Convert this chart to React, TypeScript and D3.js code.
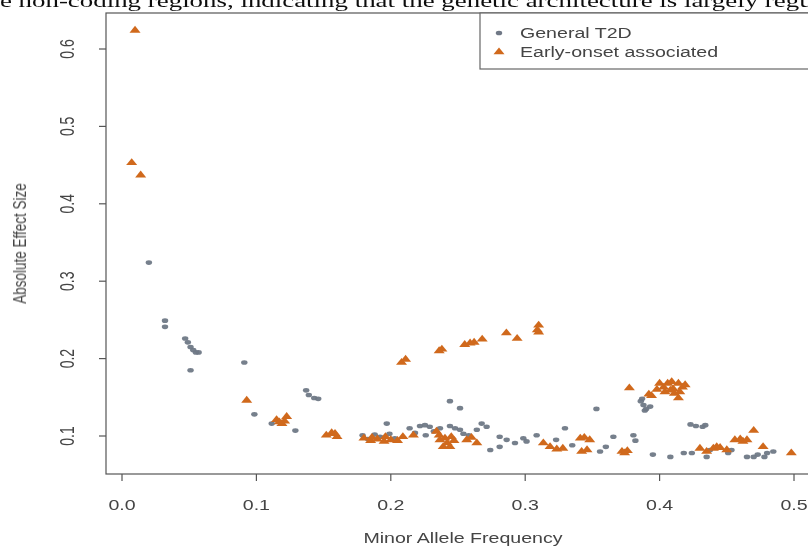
import React from 'react';
import * as d3 from 'd3';

const mafTicks = [0, 0.1, 0.2, 0.3, 0.4, 0.5];
const mafTickLabels = ['0.0', '0.1', '0.2', '0.3', '0.4', '0.5'];
const effectTicks = [0.1, 0.2, 0.3, 0.4, 0.5, 0.6];
const effectTickLabels = ['0.1', '0.2', '0.3', '0.4', '0.5', '0.6'];
const legendLabels = ['General T2D', 'Early-onset associated'];
const xTitle = 'Minor Allele Frequency';
const yTitle = 'Absolute Effect Size';
const captionText = 'the non-coding regions, indicating that the genetic architecture is largely regu';

// [minor allele frequency, absolute effect size]
const generalT2D: [number, number][] = [
  [0.020, 0.324], [0.032, 0.249], [0.032, 0.241],
  [0.047, 0.226], [0.049, 0.221], [0.051, 0.215], [0.053, 0.211], [0.055, 0.208], [0.057, 0.208], [0.051, 0.185],
  [0.091, 0.195], [0.0985, 0.128], [0.1114, 0.116], [0.129, 0.107],
  [0.137, 0.159], [0.139, 0.153], [0.143, 0.149], [0.146, 0.148],
  [0.179, 0.101], [0.183, 0.096], [0.188, 0.102], [0.192, 0.099], [0.197, 0.116], [0.199, 0.103], [0.203, 0.097],
  [0.214, 0.110], [0.2217, 0.113], [0.2254, 0.114], [0.229, 0.112], [0.2366, 0.110], [0.244, 0.113], [0.2478, 0.110],
  [0.2515, 0.108], [0.264, 0.108], [0.2676, 0.116], [0.2713, 0.112],
  [0.218, 0.104], [0.226, 0.101], [0.232, 0.106], [0.254, 0.103], [0.258, 0.101],
  [0.244, 0.145], [0.2515, 0.136],
  [0.274, 0.082], [0.281, 0.086], [0.281, 0.099], [0.2862, 0.095], [0.2924, 0.091], [0.2986, 0.097], [0.301, 0.093],
  [0.3085, 0.101], [0.323, 0.095], [0.3296, 0.110], [0.335, 0.088], [0.353, 0.135], [0.3557, 0.080], [0.360, 0.086],
  [0.3656, 0.099], [0.3805, 0.101], [0.382, 0.094],
  [0.386, 0.145], [0.388, 0.140], [0.390, 0.135], [0.389, 0.133], [0.393, 0.138], [0.387, 0.148],
  [0.395, 0.076], [0.408, 0.073], [0.418, 0.078], [0.424, 0.078], [0.423, 0.115], [0.427, 0.113], [0.432, 0.112], [0.434, 0.114],
  [0.435, 0.073], [0.4375, 0.082], [0.451, 0.078], [0.4535, 0.082], [0.465, 0.073], [0.470, 0.073], [0.473, 0.076],
  [0.478, 0.073], [0.480, 0.078], [0.4846, 0.080],
];

const earlyOnset: [number, number][] = [
  [0.0097, 0.624], [0.0072, 0.453], [0.0139, 0.437],
  [0.0928, 0.146],
  [0.115, 0.121], [0.119, 0.116], [0.1225, 0.125], [0.121, 0.119], [0.117, 0.118],
  [0.152, 0.101], [0.156, 0.104], [0.160, 0.099], [0.1585, 0.103],
  [0.180, 0.097], [0.185, 0.094], [0.190, 0.096], [0.195, 0.093], [0.200, 0.095], [0.205, 0.094], [0.209, 0.099],
  [0.2168, 0.101], [0.196, 0.099], [0.186, 0.098],
  [0.208, 0.195], [0.211, 0.199], [0.236, 0.210], [0.238, 0.212], [0.255, 0.218], [0.259, 0.220], [0.262, 0.221],
  [0.268, 0.225], [0.286, 0.233], [0.294, 0.226], [0.310, 0.243], [0.310, 0.234], [0.309, 0.237],
  [0.234, 0.106], [0.2366, 0.095], [0.2403, 0.097], [0.239, 0.086], [0.244, 0.086], [0.242, 0.091], [0.247, 0.094],
  [0.236, 0.101], [0.245, 0.099], [0.2565, 0.095], [0.264, 0.091], [0.260, 0.098],
  [0.3135, 0.091], [0.3185, 0.086], [0.3235, 0.083], [0.328, 0.084], [0.341, 0.097], [0.344, 0.098], [0.348, 0.095],
  [0.342, 0.080], [0.346, 0.082], [0.372, 0.080], [0.374, 0.078], [0.376, 0.081],
  [0.3775, 0.162],
  [0.392, 0.154], [0.394, 0.152], [0.400, 0.168], [0.403, 0.163], [0.406, 0.168], [0.409, 0.170], [0.414, 0.168],
  [0.417, 0.163], [0.411, 0.155], [0.414, 0.149], [0.408, 0.159], [0.404, 0.157], [0.410, 0.161], [0.415, 0.157],
  [0.419, 0.166], [0.398, 0.160],
  [0.430, 0.084], [0.435, 0.080], [0.440, 0.084], [0.4425, 0.086], [0.445, 0.085], [0.450, 0.082], [0.456, 0.095],
  [0.460, 0.096], [0.462, 0.093], [0.465, 0.095], [0.470, 0.107], [0.477, 0.086], [0.498, 0.078],
];

const GREY = '#6f7886';
const ORANGE = '#d0691d';
const INK = '#444';
const FONT = '"Liberation Sans", Arial, Helvetica, sans-serif';

export default function App() {
  const W = 808;
  const H = 547;
  const SX = 1.4; // the figure is stretched horizontally
  const x = d3.scaleLinear().domain([0, 0.5]).range([122, 794]);
  const y = d3.scaleLinear().domain([0.1, 0.6]).range([436, 49]);
  const box = { left: 106, right: 820, top: 13, bottom: 474 };
  const tri = d3.symbol().type(d3.symbolTriangle).size(27)() as string;

  return (
    <svg
      width={W}
      height={H}
      viewBox={`0 0 ${W} ${H}`}
      style={{ position: 'absolute', left: 0, top: 0, background: '#fff' }}
    >
      <defs>
        <filter id="soft" x="-5%" y="-5%" width="110%" height="110%">
          <feGaussianBlur stdDeviation="0.35" />
        </filter>
      </defs>
      <rect x={0} y={0} width={W} height={H} fill="#fff" />
      <g filter="url(#soft)">
        {/* clipped caption line of the surrounding page */}
        <text
          transform={`translate(-21, 7) scale(1.38,1)`}
          fontFamily='"Liberation Serif", "Times New Roman", serif'
          fontSize={19.5}
          fill="#111"
        >
          {captionText}
        </text>

        {/* plot box */}
        <rect
          x={box.left}
          y={box.top}
          width={box.right - box.left}
          height={box.bottom - box.top}
          fill="none"
          stroke="#555"
          strokeWidth={1.2}
        />

        {/* x axis */}
        {mafTicks.map((t, i) => (
          <g key={'xt' + i}>
            <line x1={x(t)} x2={x(t)} y1={box.bottom} y2={box.bottom + 7} stroke="#555" strokeWidth={1.2} />
            <text
              transform={`translate(${x(t)},${510}) scale(${SX},1)`}
              textAnchor="middle"
              fontFamily={FONT}
              fontSize={14}
              fill={INK}
            >
              {mafTickLabels[i]}
            </text>
          </g>
        ))}
        <text
          transform={`translate(${(box.left + box.right) / 2},${543}) scale(${SX},1)`}
          textAnchor="middle"
          fontFamily={FONT}
          fontSize={14}
          fill={INK}
        >
          {xTitle}
        </text>

        {/* y axis */}
        {effectTicks.map((t, i) => (
          <g key={'yt' + i}>
            <line x1={box.left - 7} x2={box.left} y1={y(t)} y2={y(t)} stroke="#555" strokeWidth={1.2} />
            <text
              transform={`translate(${74},${y(t)}) scale(${SX},1) rotate(-90)`}
              textAnchor="middle"
              fontFamily={FONT}
              fontSize={14}
              fill={INK}
            >
              {effectTickLabels[i]}
            </text>
          </g>
        ))}
        <text
          transform={`translate(${26},${(box.top + box.bottom) / 2}) scale(${SX},1) rotate(-90)`}
          textAnchor="middle"
          fontFamily={FONT}
          fontSize={13.5}
          fill={INK}
        >
          {yTitle}
        </text>

        {/* points */}
        <g>
          {generalT2D.map((d, i) => (
            <ellipse key={'g' + i} cx={x(d[0])} cy={y(d[1])} rx={2.3 * SX} ry={2.3} fill={GREY} opacity={0.95} />
          ))}
          {earlyOnset.map((d, i) => (
            <path
              key={'e' + i}
              d={tri}
              transform={`translate(${x(d[0])},${y(d[1])}) scale(${SX},1)`}
              fill={ORANGE}
            />
          ))}
        </g>

        {/* legend */}
        <rect x={480} y={box.top} width={360} height={56} fill="#fff" stroke="#666" strokeWidth={1.2} />
        <ellipse cx={499} cy={33} rx={2.3 * SX} ry={2.3} fill={GREY} />
        <path d={tri} transform={`translate(499,52) scale(${SX},1)`} fill={ORANGE} />
        {legendLabels.map((l, i) => (
          <text
            key={'lg' + i}
            transform={`translate(520,${38 + i * 19}) scale(${SX},1)`}
            fontFamily={FONT}
            fontSize={14}
            fill={INK}
          >
            {l}
          </text>
        ))}
      </g>
    </svg>
  );
}
